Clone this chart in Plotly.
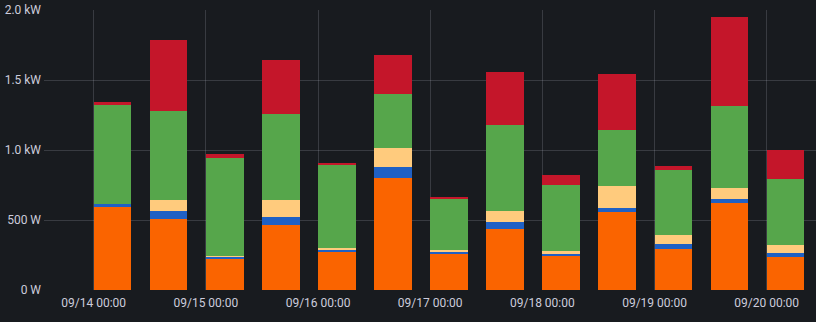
import plotly.graph_objects as go
import pandas as pd

times = pd.date_range("2023-09-14 00:00", "2023-09-20 00:00", freq="12h")

orange = [590, 505, 219, 467, 269, 800, 255, 433, 240, 557, 293, 624, 236]
blue   = [22, 57, 19, 57, 19, 79, 19, 50, 20, 29, 36, 26, 28]
peach  = [0, 78, 3, 121, 14, 138, 9, 79, 16, 154, 61, 79, 55]
green  = [709, 641, 702, 610, 588, 381, 365, 617, 472, 400, 470, 588, 474]
red    = [19, 505, 31, 388, 20, 283, 19, 378, 71, 400, 28, 631, 205]

series = [
    ("orange", orange, "#FA6400"),
    ("blue", blue, "#1F60C4"),
    ("peach", peach, "#FFCB7D"),
    ("green", green, "#56A64B"),
    ("red", red, "#C4162A"),
]

ytick_vals = [0, 500, 1000, 1500, 2000]
ytick_text = ["0 W", "500 W", "1.0 kW", "1.5 kW", "2.0 kW"]
xtick_vals = pd.date_range("2023-09-14", "2023-09-20", freq="1D")
xtick_text = [d.strftime("%m/%d 00:00") for d in xtick_vals]

bar_ms = 8.07 * 3600 * 1000

fig = go.Figure()
for name, vals, col in series:
    fig.add_trace(go.Bar(
        x=times, y=vals, name=name, marker=dict(color=col, line=dict(width=0)),
        width=[bar_ms] * len(times), offset=0,
    ))

fig.update_layout(
    barmode="stack",
    width=816, height=322,
    margin=dict(l=44, r=0, t=10, b=32),
    paper_bgcolor="#181b1f", plot_bgcolor="#181b1f",
    showlegend=False,
    font=dict(family="Roboto, Inter, sans-serif", size=12, color="#ccccdc"),
    bargap=0,
)
fig.update_xaxes(
    type="date",
    range=[pd.Timestamp("2023-09-13 13:22"), pd.Timestamp("2023-09-20 10:33")],
    tickvals=xtick_vals, ticktext=xtick_text,
    showgrid=True, gridcolor="rgba(204,204,220,0.18)", gridwidth=1,
    zeroline=False, showline=False, ticks="", ticklen=0,
    tickfont=dict(size=12, color="#ccccdc"),
    ticklabelstandoff=4,
)
fig.update_yaxes(
    range=[0, 2000],
    tickvals=ytick_vals, ticktext=ytick_text,
    showgrid=True, gridcolor="rgba(204,204,220,0.18)", gridwidth=1,
    zeroline=False, showline=False, ticks="",
    tickfont=dict(size=12, color="#ccccdc"),
    ticklabelstandoff=2,
)

fig.write_html("out.html")
